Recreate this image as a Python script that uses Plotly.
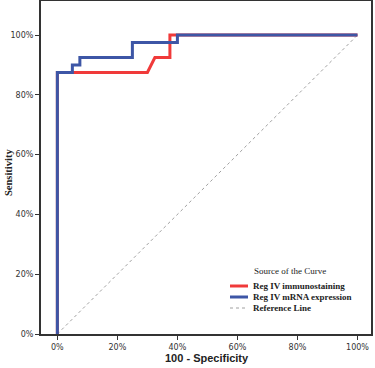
import plotly.graph_objects as go

# ROC curve data (100 - Specificity %, Sensitivity %)
immuno_x = [0, 0, 30, 32.5, 37.5, 37.5, 100]
immuno_y = [0, 87.5, 87.5, 92.5, 92.5, 100, 100]
mrna_x = [0, 0, 5, 5, 7.5, 7.5, 25, 25, 40, 40, 100]
mrna_y = [0, 87.5, 87.5, 90, 90, 92.5, 92.5, 97.5, 97.5, 100, 100]
ref_x = [0, 100]
ref_y = [0, 100]
tick_vals = [0, 20, 40, 60, 80, 100]
tick_text = ["0%", "20%", "40%", "60%", "80%", "100%"]
series_names = ["Reg IV immunostaining", "Reg IV mRNA expression", "Reference Line"]

RED = "#f03a3a"
BLUE = "#3d56a6"
GRAY = "#888888"

W, H = 375, 368
L, R, T, B = 41, 4, 1, 34
PW, PH = W - L - R, H - T - B

def px(x):
    return (x - L) / PW

def py(y):
    return (H - B - y) / PH

fig = go.Figure()
fig.add_trace(go.Scatter(x=ref_x, y=ref_y, mode="lines",
                         line=dict(color=GRAY, width=0.8, dash="dot"), showlegend=False))
fig.add_trace(go.Scatter(x=immuno_x, y=immuno_y, mode="lines",
                         line=dict(color=RED, width=3), showlegend=False))
fig.add_trace(go.Scatter(x=mrna_x, y=mrna_y, mode="lines",
                         line=dict(color=BLUE, width=3), showlegend=False))

axis_common = dict(
    showgrid=False, zeroline=False, showline=True, mirror=True, automargin=False,
    linecolor="#333333", linewidth=2, ticks="outside", ticklen=4,
    tickcolor="#333333", tickwidth=1,
    tickfont=dict(family="DejaVu Sans", size=8, color="#333333"),
    tickvals=tick_vals, ticktext=tick_text,
)
fig.update_xaxes(range=[-5.45, 104.5], **axis_common)
fig.update_yaxes(range=[0, 111.4], **axis_common)

annotations = [
    dict(text="<b>100 - Specificity</b>", x=px(207), y=py(357.5), xref="paper", yref="paper",
         showarrow=False, xanchor="center", yanchor="middle",
         font=dict(family="Liberation Sans", size=11, color="#222222")),
    dict(text="<b>Sensitivity</b>", x=px(8), y=py(173), xref="paper", yref="paper",
         showarrow=False, xanchor="center", yanchor="middle", textangle=-90,
         font=dict(family="Liberation Serif", size=10.5, color="#222222")),
    dict(text="Source of the Curve", x=px(290), y=py(271), xref="paper", yref="paper",
         showarrow=False, xanchor="center", yanchor="middle",
         font=dict(family="Liberation Serif", size=9, color="#222222")),
]
shapes = []
legend_colors = [RED, BLUE, GRAY]
legend_widths = [3, 3, 0.8]
legend_dash = ["solid", "solid", "dot"]
legend_ys = [286, 297, 308]
for name, c, w, d, ly in zip(series_names, legend_colors, legend_widths, legend_dash, legend_ys):
    shapes.append(dict(type="line", xref="paper", yref="paper",
                       x0=px(230), x1=px(248), y0=py(ly), y1=py(ly),
                       line=dict(color=c, width=w, dash=d)))
    annotations.append(dict(text="<b>" + name + "</b>", x=px(251), y=py(ly),
                            xref="paper", yref="paper", showarrow=False,
                            xanchor="left", yanchor="middle",
                            font=dict(family="Liberation Serif", size=9, color="#222222")))

fig.update_layout(
    width=W, height=H,
    margin=dict(l=L, r=R, t=T, b=B, autoexpand=False),
    paper_bgcolor="white", plot_bgcolor="white",
    showlegend=False,
    annotations=annotations, shapes=shapes,
)
fig.write_html("out.html", config={"displayModeBar": False},
               post_script="document.body.style.margin='0';document.body.style.overflow='hidden';")
